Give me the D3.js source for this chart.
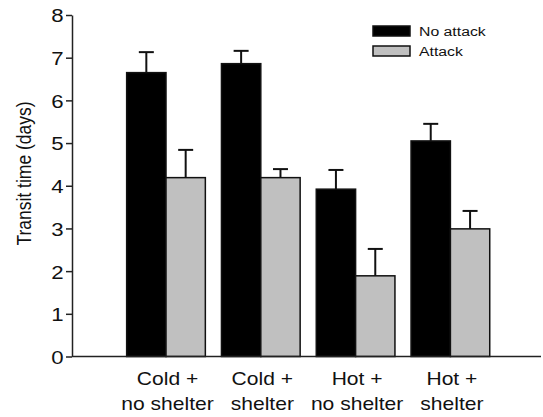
<!DOCTYPE html>
<html>
<head>
<meta charset="utf-8">
<script src="https://cdn.jsdelivr.net/npm/d3@7"></script>
<style>
  html, body { margin: 0; padding: 0; background: #fff; }
  svg { display: block; }
  text { font-family: "Liberation Sans", Arial, Helvetica, sans-serif; fill: #111; }
</style>
</head>
<body>
<svg id="chart" width="543" height="417"></svg>
<script>
// Transit time by condition, with and without attack
const categories = [
  ["Cold +", "no shelter"],
  ["Cold +", "shelter"],
  ["Hot +", "no shelter"],
  ["Hot +", "shelter"]
];
const seriesNames = ["No attack", "Attack"];
const noAttack = [6.65, 6.86, 3.92, 5.05];
const noAttackErr = [0.48, 0.30, 0.45, 0.40];
const attack = [4.19, 4.19, 1.89, 2.99];
const attackErr = [0.65, 0.20, 0.63, 0.42];
const yTicks = [0, 1, 2, 3, 4, 5, 6, 7, 8];

const colors = ["#000000", "#c0c0c0"];
const sx = 1.17; // horizontal stretch of lettering

const svg = d3.select("#chart");

const y = d3.scaleLinear().domain([0, 8]).range([356.5, 15]);
const x0 = d3.scaleBand()
  .domain(d3.range(categories.length))
  .range([118.6, 497.8])
  .paddingInner(0.17)
  .paddingOuter(0.085);
const x1 = d3.scaleBand()
  .domain(d3.range(seriesNames.length))
  .range([0, x0.bandwidth()]);

const rows = categories.map((c, i) => ({
  i,
  vals: [
    { s: 0, v: noAttack[i], e: noAttackErr[i] },
    { s: 1, v: attack[i], e: attackErr[i] }
  ]
}));

// Bars
const groups = svg.selectAll("g.grp").data(rows).join("g")
  .attr("class", "grp")
  .attr("transform", d => `translate(${x0(d.i)},0)`);

groups.selectAll("rect").data(d => d.vals).join("rect")
  .attr("x", d => x1(d.s))
  .attr("y", d => y(d.v))
  .attr("width", x1.bandwidth())
  .attr("height", d => y(0) - y(d.v))
  .attr("fill", d => colors[d.s])
  .attr("stroke", "#111")
  .attr("stroke-width", 1.5);

// Upper error bars
const capW = 15;
groups.selectAll("g.err").data(d => d.vals).join("g")
  .attr("class", "err")
  .each(function (d) {
    const g = d3.select(this);
    const cx = x1(d.s) + x1.bandwidth() / 2;
    g.append("line")
      .attr("x1", cx).attr("x2", cx)
      .attr("y1", y(d.v)).attr("y2", y(d.v + d.e))
      .attr("stroke", "#111").attr("stroke-width", 2);
    g.append("line")
      .attr("x1", cx - capW / 2).attr("x2", cx + capW / 2)
      .attr("y1", y(d.v + d.e)).attr("y2", y(d.v + d.e))
      .attr("stroke", "#111").attr("stroke-width", 2);
  });

// Y axis
const yAxis = d3.axisLeft(y).tickValues(yTicks).tickSize(6).tickSizeOuter(0).tickFormat(d3.format("d"));
const yg = svg.append("g").attr("transform", "translate(72,0)").call(yAxis);
yg.select(".domain").attr("stroke", "#222").attr("stroke-width", 1.5);
yg.selectAll(".tick line").attr("stroke", "#222").attr("stroke-width", 1.5);
yg.selectAll(".tick text")
  .attr("x", null).attr("dy", null)
  .attr("dominant-baseline", "central")
  .attr("text-anchor", "end")
  .attr("transform", `translate(-8.5,0) scale(${sx},1)`)
  .style("font-family", "'Liberation Sans', Arial, sans-serif")
  .style("font-size", "19px")
  .attr("fill", "#111");

// X baseline
svg.append("line")
  .attr("x1", 72).attr("x2", 541)
  .attr("y1", y(0)).attr("y2", y(0))
  .attr("stroke", "#222").attr("stroke-width", 1.5);

// Category labels
const labels = svg.selectAll("g.cat").data(categories).join("g").attr("class", "cat");
labels.each(function (lines, i) {
  const cx = x0(i) + x0.bandwidth() / 2 + 1.5;
  lines.forEach((t, k) => {
    d3.select(this).append("text")
      .attr("text-anchor", "middle")
      .attr("transform", `translate(${cx},${385 + k * 25}) scale(${sx},1)`)
      .style("font-size", "18px")
      .text(t);
  });
});

// Y title
svg.append("text")
  .attr("text-anchor", "middle")
  .attr("transform", `translate(31,173.5) scale(${sx},1) rotate(-90)`)
  .style("font-size", "17.5px")
  .text("Transit time (days)");

// Legend
const legend = svg.append("g").attr("transform", "translate(373,26)");
seriesNames.forEach((name, k) => {
  const row = legend.append("g").attr("transform", `translate(0,${k * 20})`);
  row.append("rect")
    .attr("width", 37).attr("height", 10)
    .attr("fill", colors[k])
    .attr("stroke", "#111").attr("stroke-width", 1.5);
  row.append("text")
    .attr("transform", `translate(46,10) scale(${sx},1)`)
    .style("font-size", "13.5px")
    .text(name);
});
</script>
</body>
</html>
